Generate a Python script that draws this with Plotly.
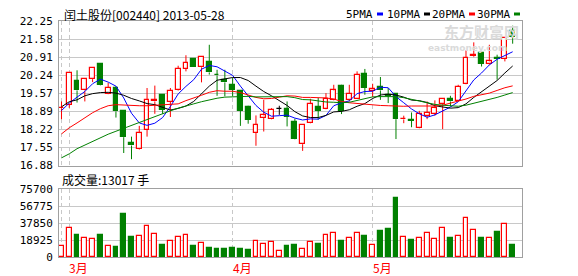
import plotly.graph_objects as go

# ---------------- data ----------------
open_ = [19.01, 19.13, 20.03, 19.67, 20.09, 20.67, 19.55, 19.76, 18.89, 17.71,
         17.48, 18.20, 19.26, 19.51, 19.24, 19.67, 20.47, 20.84, 20.53, 20.74,
         20.26, 20.04, 19.88, 19.66, 19.04, 18.10, 18.66, 18.60, 18.98, 18.98,
         18.51, 17.67, 18.45, 19.04, 18.98, 19.32, 19.85, 19.32, 19.36, 20.29,
         19.66, 19.78, 19.49, 19.54, 18.59, 18.56, 18.27, 18.73, 18.80, 19.16,
         19.35, 19.26, 19.91, 20.94, 21.06, 20.67, 20.88, 20.85, 21.87]
high = [19.26, 20.32, 20.42, 20.10, 20.52, 20.69, 19.95, 19.82, 18.90, 17.95,
        18.35, 19.76, 19.85, 19.52, 19.76, 20.59, 20.98, 20.86, 20.93, 21.37,
        20.44, 20.44, 20.13, 19.67, 19.10, 18.74, 19.32, 19.01, 19.10, 19.26,
        18.62, 18.40, 19.36, 19.39, 19.57, 19.88, 19.88, 19.88, 20.38, 20.47,
        19.92, 20.17, 19.76, 19.55, 18.73, 18.85, 18.91, 19.26, 19.30, 19.36,
        19.47, 19.88, 21.16, 21.46, 21.07, 21.37, 21.00, 21.63, 22.08]
low = [18.60, 19.02, 19.22, 19.26, 19.98, 19.86, 19.53, 18.66, 17.34, 17.11,
       17.46, 17.95, 18.80, 18.80, 18.68, 19.65, 20.38, 20.55, 19.97, 20.26,
       19.47, 19.45, 19.45, 18.35, 18.43, 17.61, 18.14, 18.59, 18.76, 18.33,
       17.85, 17.42, 18.44, 18.58, 18.97, 19.30, 18.79, 19.26, 19.35, 19.51,
       19.42, 19.32, 19.20, 17.86, 18.45, 18.30, 18.26, 18.60, 18.73, 18.23,
       19.07, 19.25, 19.90, 20.91, 20.56, 20.63, 20.07, 20.75, 21.41]
close = [19.03, 20.32, 19.67, 20.09, 20.51, 19.88, 19.76, 18.89, 17.93, 17.62,
         18.08, 19.32, 19.32, 18.95, 19.66, 20.47, 20.69, 20.56, 20.92, 20.34,
         20.23, 19.97, 19.70, 18.92, 18.58, 18.38, 18.74, 18.95, 18.98, 18.68,
         17.86, 18.39, 19.16, 18.92, 19.36, 19.67, 18.92, 19.55, 20.24, 19.76,
         19.72, 19.67, 19.46, 18.60, 18.61, 18.54, 18.79, 18.83, 19.01, 19.35,
         19.26, 19.80, 20.88, 21.00, 20.67, 20.75, 20.84, 21.62, 21.66]
volume = [12250, 31950, 24500, 20800, 19700, 24500, 12250, 10800, 47870, 21900,
          23000, 34150, 25600, 13360, 17450, 21900, 24150, 12250, 15250, 10000,
          8900, 8900, 10000, 8900, 7800, 17450, 14470, 16700, 6680, 12250,
          13360, 8570, 16700, 14470, 24500, 26700, 17800, 20800, 26700, 23400,
          13360, 28950, 31200, 65700, 21900, 18900, 20800, 26700, 19700, 31950,
          20800, 23000, 43050, 29700, 20800, 20800, 27800, 36700, 13017]
ma5 = [18.92, 19.20, 19.42, 19.63, 19.92, 20.09, 19.98, 19.83, 19.39, 18.82,
       18.46, 18.37, 18.45, 18.66, 19.07, 19.54, 19.82, 20.07, 20.46, 20.60,
       20.55, 20.40, 20.23, 19.83, 19.48, 19.11, 18.86, 18.71, 18.73, 18.75,
       18.64, 18.57, 18.61, 18.60, 18.74, 19.10, 19.21, 19.28, 19.55, 19.63,
       19.64, 19.79, 19.77, 19.44, 19.21, 18.98, 18.80, 18.67, 18.76, 18.90,
       19.05, 19.25, 19.66, 20.06, 20.32, 20.62, 20.83, 20.98, 21.11]
ma10 = [19.06, 19.25, 19.32, 19.47, 19.55, 19.59, 19.60, 19.57, 19.49, 19.37,
        19.28, 19.18, 19.14, 19.03, 18.94, 19.00, 19.09, 19.26, 19.56, 19.83,
        20.05, 20.11, 20.15, 20.15, 20.04, 19.83, 19.63, 19.47, 19.28, 19.11,
        18.88, 18.72, 18.66, 18.66, 18.74, 18.87, 18.89, 18.95, 19.08, 19.18,
        19.37, 19.50, 19.53, 19.50, 19.42, 19.31, 19.29, 19.22, 19.10, 19.06,
        19.01, 19.03, 19.17, 19.41, 19.61, 19.83, 20.04, 20.32, 20.58]
ma20 = [18.05, 18.28, 18.46, 18.65, 18.84, 18.99, 19.10, 19.14, 19.12, 19.10,
        19.10, 19.10, 19.12, 19.12, 19.14, 19.17, 19.29, 19.38, 19.49, 19.60,
        19.66, 19.64, 19.64, 19.59, 19.49, 19.41, 19.36, 19.37, 19.42, 19.47,
        19.46, 19.41, 19.41, 19.41, 19.39, 19.35, 19.26, 19.21, 19.18, 19.15,
        19.12, 19.11, 19.10, 19.08, 19.08, 19.09, 19.09, 19.09, 19.09, 19.12,
        19.19, 19.26, 19.35, 19.45, 19.52, 19.57, 19.67, 19.77, 19.84]
ma30 = [17.16, 17.31, 17.50, 17.64, 17.79, 17.91, 18.04, 18.15, 18.26, 18.37,
        18.48, 18.60, 18.69, 18.80, 18.91, 19.01, 19.10, 19.17, 19.25, 19.32,
        19.38, 19.42, 19.43, 19.45, 19.45, 19.43, 19.43, 19.42, 19.42, 19.44,
        19.40, 19.33, 19.32, 19.28, 19.24, 19.23, 19.21, 19.23, 19.30, 19.38,
        19.43, 19.44, 19.45, 19.44, 19.40, 19.34, 19.27, 19.21, 19.15, 19.12,
        19.09, 19.08, 19.12, 19.19, 19.26, 19.34, 19.41, 19.50, 19.59]
price_ticks = [16.88, 17.55, 18.22, 18.89, 19.57, 20.24, 20.91, 21.58, 22.25]
vol_ticks = [0, 18925, 37850, 56775, 75700]
grid_idx = [0, 1, 22, 40]
month_idx = [1, 22, 40]
month_labels = ["3月", "4月", "5月"]
title_text = "闰土股份[002440] 2013-05-28"
vol_title = "成交量:13017 手"
ma_names = ["5PMA", "10PMA", "20PMA", "30PMA"]

# ---------------- styling ----------------
RED, GREEN, BLUE, BLACK = "#ff0000", "#008000", "#0000ff", "#000000"
ma_colors = [BLUE, BLACK, RED, GREEN]
MONO = "DejaVu Sans Mono"
CJK = "Noto Sans CJK SC"

n = len(close)
idx = list(range(n))

def ccol(i):
    if close[i] > open_[i]:
        return RED
    if close[i] < open_[i]:
        return GREEN
    return BLACK

cols = [ccol(i) for i in idx]
body_fill = ["white" if c == RED else c for c in cols]
body_base = [min(open_[i], close[i]) for i in idx]
body_h = [max(abs(close[i] - open_[i]), 0.004) for i in idx]

fig = go.Figure()

# wicks (upper and lower segments, grouped by colour)
for colr in [RED, GREEN, BLACK]:
    xs, ys = [], []
    for i in idx:
        if cols[i] != colr:
            continue
        top = max(open_[i], close[i])
        bot = min(open_[i], close[i])
        xs += [i, i, None, i, i, None]
        ys += [high[i], top, None, bot, low[i], None]
    if xs:
        fig.add_trace(go.Scatter(x=xs, y=ys, mode="lines", line=dict(color=colr, width=1),
                                 xaxis="x", yaxis="y", hoverinfo="skip"))

# bodies
fig.add_trace(go.Bar(x=idx, y=body_h, base=body_base, width=0.62,
                     marker=dict(color=body_fill, line=dict(color=cols, width=1.2)),
                     xaxis="x", yaxis="y"))

# moving averages
for vals, colr in zip([ma5, ma10, ma20, ma30], ma_colors):
    fig.add_trace(go.Scatter(x=idx, y=vals, mode="lines", line=dict(color=colr, width=1),
                             xaxis="x", yaxis="y"))

# volume
vcols = [RED if close[i] >= open_[i] else GREEN for i in idx]
vfill = ["white" if c == RED else c for c in vcols]
fig.add_trace(go.Bar(x=idx, y=volume, width=0.62,
                     marker=dict(color=vfill, line=dict(color=vcols, width=1.2)),
                     xaxis="x2", yaxis="y2"))

# ---------------- layout ----------------
L, R, T, B, W, H = 59, 56, 21, 19, 578, 276
PW, PH = W - L - R, H - T - B

def px(xp):
    return (xp - L) / PW

def py(yp):
    return (H - B - yp) / PH

xr = [-0.32, 59.2]
grid = dict(showgrid=True, gridcolor="#c8c8c8", gridwidth=1)
line = dict(showline=True, linecolor="#a0a0a0", linewidth=1, mirror=True, zeroline=False)
tickf = dict(family=MONO, size=11, color="#000000")

fig.update_layout(
    width=W, height=H, margin=dict(l=L, r=R, t=T, b=B, pad=0),
    paper_bgcolor="white", plot_bgcolor="white", showlegend=False,
    barmode="overlay", bargap=0,
    xaxis=dict(domain=[0, 1], anchor="y", range=xr, tickvals=grid_idx,
               showticklabels=False, ticks="", griddash="4px,3px", **grid, **line),
    yaxis=dict(domain=[py(165.5), 1], anchor="x", range=[16.875, 22.255],
               tickvals=price_ticks, ticktext=[f"{v:.2f}" for v in price_ticks],
               ticks="", tickfont=tickf, ticklabelstandoff=3, **grid, **line),
    xaxis2=dict(domain=[0, 1], anchor="y2", matches="x", range=xr, tickvals=grid_idx,
                showticklabels=False, ticks="", griddash="4px,3px", **grid, **line),
    yaxis2=dict(domain=[0, py(189)], anchor="x2", range=[0, 75750],
                tickvals=vol_ticks, ticktext=[str(v) for v in vol_ticks],
                ticks="", tickfont=tickf, ticklabelstandoff=3, **grid, **line),
)

ann = []
ann.append(dict(text=title_text, x=px(62), y=py(14), xref="paper", yref="paper",
                xanchor="left", yanchor="middle", showarrow=False,
                font=dict(family=CJK, size=12, color="#000000")))
ann.append(dict(text=vol_title, x=px(60), y=py(179), xref="paper", yref="paper",
                xanchor="left", yanchor="middle", showarrow=False,
                font=dict(family=CJK, size=12, color="#000000")))
# watermark
ann.append(dict(text="<b>东方财富网</b>", x=px(481), y=py(31), xref="paper", yref="paper",
                xanchor="center", yanchor="middle", showarrow=False,
                font=dict(family=CJK, size=15, color="#dadada")))
ann.append(dict(text="<b>eastmoney.com</b>", x=px(467), y=py(48), xref="paper", yref="paper",
                xanchor="center", yanchor="middle", showarrow=False,
                font=dict(family="DejaVu Sans", size=9, color="#dadada")))
# month labels
for m, lab in zip(month_idx, month_labels):
    ann.append(dict(text=lab, x=m, y=py(267), xref="x2", yref="paper", xshift=-2,
                    xanchor="left", yanchor="middle", showarrow=False,
                    font=dict(family=CJK, size=12, color=RED)))

# MA legend
legend_right = [375, 422, 467, 512]
shapes = []
for name, colr, xr_ in zip(ma_names, ma_colors, legend_right):
    ann.append(dict(text=name, x=px(xr_), y=py(14), xref="paper", yref="paper",
                    xanchor="right", yanchor="middle", showarrow=False,
                    font=dict(family=MONO, size=11, color="#000000")))
    shapes.append(dict(type="rect", xref="paper", yref="paper",
                       x0=px(xr_ + 2), x1=px(xr_ + 8), y0=py(15.5), y1=py(12.5),
                       fillcolor=colr, line=dict(width=0)))

fig.update_layout(annotations=ann, shapes=shapes)

fig.write_html("out.html")
